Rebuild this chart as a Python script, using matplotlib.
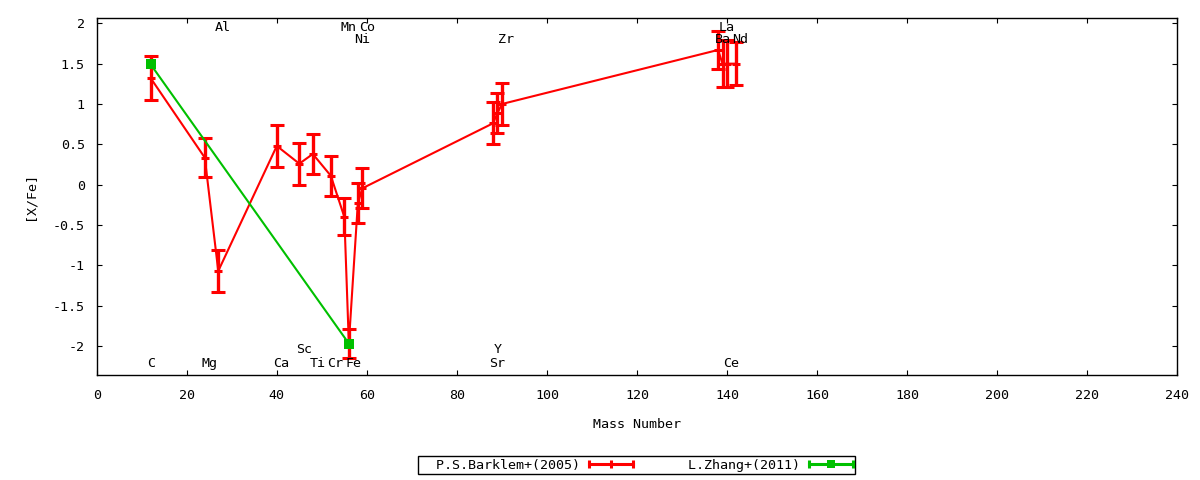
import matplotlib
matplotlib.use("Agg")
import matplotlib.pyplot as plt
from matplotlib.lines import Line2D
from matplotlib.legend_handler import HandlerBase

plt.rcParams['font.family'] = ['DejaVu Sans Mono']
FS = 9.6

# ---------------- data ----------------
red_elements = ['C', 'Mg', 'Al', 'Ca', 'Sc', 'Ti', 'Cr', 'Mn', 'Fe', 'Ni', 'Co',
                'Sr', 'Y', 'Zr', 'Ba', 'La', 'Ce', 'Nd']
red_mass = [12, 24, 27, 40, 45, 48, 52, 55, 56, 58, 59, 88, 89, 90, 138, 139, 140, 142]
red_value = [1.32, 0.335, -1.07, 0.48, 0.26, 0.38, 0.11, -0.40, -1.97, -0.23, -0.045,
             0.76, 0.885, 1.00, 1.67, 1.50, 1.50, 1.50]
red_error = [0.27, 0.24, 0.26, 0.256, 0.26, 0.245, 0.25, 0.23, 0.18, 0.245, 0.25,
             0.26, 0.25, 0.265, 0.23, 0.29, 0.29, 0.27]
red_label = 'P.S.Barklem+(2005)'

green_elements = ['C', 'Fe']
green_mass = [12, 56]
green_value = [1.49, -1.97]
green_error = [0.0, 0.0]
green_label = 'L.Zhang+(2011)'

# element labels: (name, mass number, y position)
label_names = ['Al', 'Mn', 'Co', 'La', 'Ni', 'Zr', 'Ba', 'Nd',
               'C', 'Mg', 'Ca', 'Ti', 'Cr', 'Fe', 'Sr', 'Ce', 'Sc', 'Y']
label_mass = [27, 55, 59, 139, 58, 90, 138, 142,
              12, 24, 40, 48, 52, 56, 88, 140, 45, 89]
label_y = [1.95, 1.95, 1.95, 1.95, 1.80, 1.80, 1.80, 1.80,
           -2.22, -2.22, -2.22, -2.22, -2.22, -2.22, -2.22, -2.22, -2.04, -2.04]

x_ticks = list(range(0, 241, 20))
y_ticks = [-2, -1.5, -1, -0.5, 0, 0.5, 1, 1.5, 2]
y_tick_labels = ['-2', '-1.5', '-1', '-0.5', '0', '0.5', '1', '1.5', '2']

RED = '#ff0000'
GREEN = '#00c000'

W, H = 1200, 480
fig = plt.figure(figsize=(W / 100, H / 100), dpi=100)
x0, x1 = 96.7, 1177.3
y0, y1 = 17.7, 375.0
ax = fig.add_axes([x0 / W, 1 - y1 / H, (x1 - x0) / W, (y1 - y0) / H])

ax.errorbar(red_mass, red_value, yerr=red_error, color=RED, lw=1.5,
            elinewidth=2.4, capsize=5, capthick=2.2, marker='_', ms=5.5, mew=2.2,
            zorder=3)
ax.errorbar(green_mass, green_value, yerr=green_error, color=GREEN, lw=1.5,
            elinewidth=2.4, capsize=0, marker='s', ms=7, mew=0, zorder=4)

for name, m, yv in zip(label_names, label_mass, label_y):
    ax.annotate(name, (m, yv), xytext=(-2.5, 0), textcoords='offset points',
                ha='left', va='center', fontsize=FS, color='black', zorder=5)

ax.set_xlim(0, 240)
ax.set_ylim(-2.36, 2.07)
ax.set_xticks(x_ticks)
ax.set_xticklabels([str(v) for v in x_ticks])
ax.set_yticks(y_ticks)
ax.set_yticklabels(y_tick_labels)
ax.tick_params(direction='in', length=3.6, width=0.8, top=True, right=True,
               labelsize=FS, pad=8.5)
ax.tick_params(axis='x', pad=10)
for sp in ax.spines.values():
    sp.set_linewidth(1.0)
ax.set_xlabel('Mass Number', fontsize=FS, labelpad=11.5)
ax.set_ylabel('[X/Fe]', fontsize=FS, labelpad=12)


class ErrLineHandler(HandlerBase):
    def __init__(self, color, center):
        super().__init__()
        self.color = color
        self.center = center

    def create_artists(self, legend, orig_handle, xdescent, ydescent, width,
                       height, fontsize, trans):
        yc = height / 2 - ydescent
        xa, xb = -xdescent, -xdescent + width
        arts = [Line2D([xa, xb], [yc, yc], color=self.color, lw=2.2),
                Line2D([xa, xb], [yc, yc], color=self.color, lw=0,
                       marker='|', ms=6, mew=2.2)]
        if self.center == 'tick':
            arts.append(Line2D([(xa + xb) / 2], [yc], color=self.color, lw=0,
                               marker='|', ms=6, mew=2.2))
        else:
            arts.append(Line2D([(xa + xb) / 2], [yc], color=self.color, lw=0,
                               marker='s', ms=6, mew=0))
        for a in arts:
            a.set_transform(trans)
        return arts


h_red = Line2D([], [], color=RED)
h_green = Line2D([], [], color=GREEN)
leg = fig.legend([h_red, h_green], ['  ' + red_label, '  ' + green_label],
                 handler_map={h_red: ErrLineHandler(RED, 'tick'),
                              h_green: ErrLineHandler(GREEN, 'box')},
                 loc='center', bbox_to_anchor=(636.5 / W, 1 - 465 / H),
                 ncol=2, markerfirst=False, fontsize=FS, frameon=True,
                 fancybox=False, edgecolor='black', framealpha=1,
                 borderpad=0.17, handlelength=3.3, handletextpad=0.6,
                 columnspacing=3.0, borderaxespad=0)
leg.get_frame().set_linewidth(1.0)

fig.savefig('out.png', dpi=100)
